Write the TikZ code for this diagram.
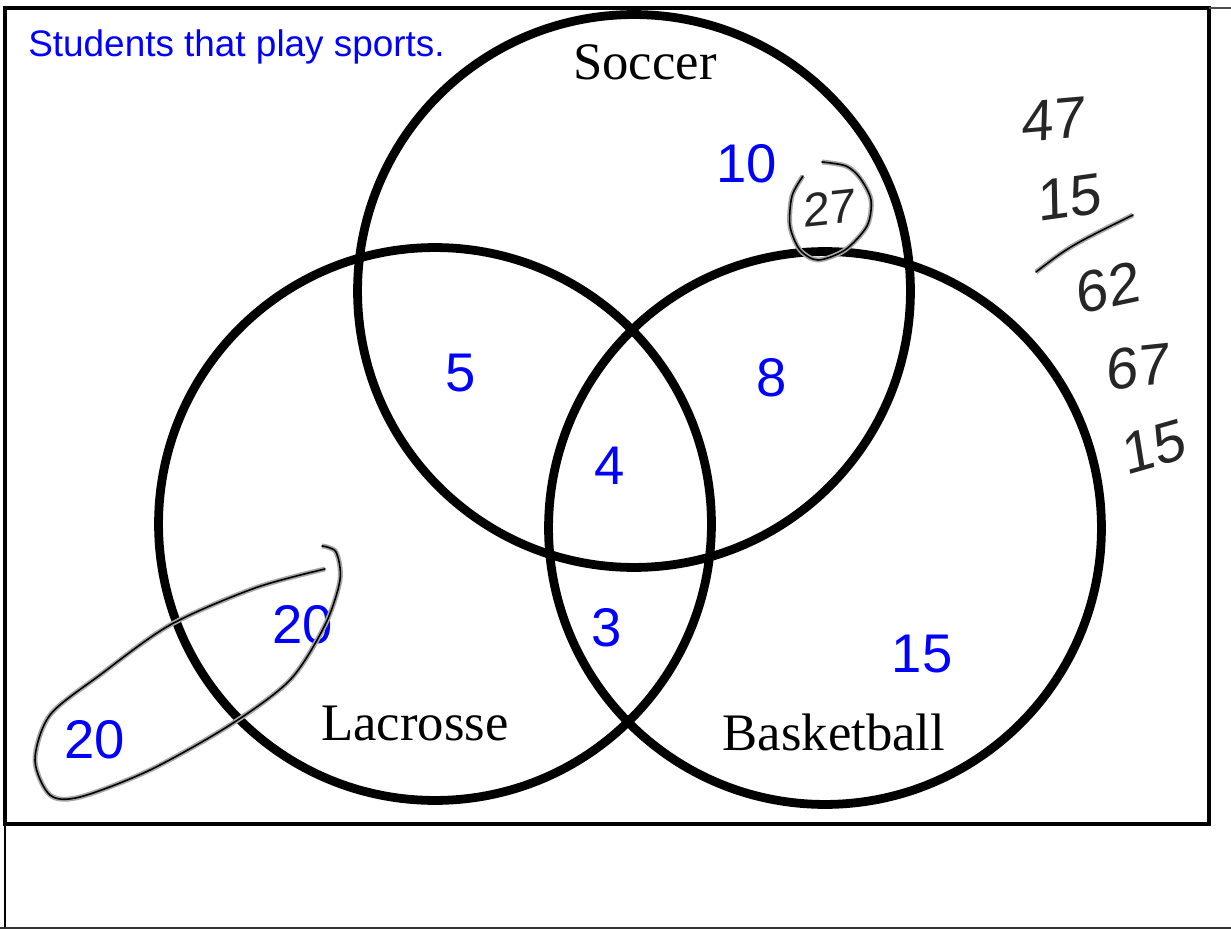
\documentclass[tikz,border=0pt]{standalone}
\usepackage{fontspec}
\setmainfont{Liberation Serif}
\newfontfamily\labelfont{Liberation Sans}
\newfontfamily\handfont[FakeSlant=0.12]{Liberation Sans}

\begin{document}
\begin{tikzpicture}[x=0.02cm, y=-0.02cm, every node/.style={inner sep=0pt},
  setcircle/.style={circle, draw, line width=5pt, minimum size=11.06cm},
  count/.style={text=blue, font=\labelfont\fontsize{31}{31}\selectfont},
  sport/.style={font=\fontsize{30}{30}\selectfont},
  hand/.style={text=black!85, font=\handfont\fontsize{33}{33}\selectfont},
  ink/.style={draw=black, line width=0.9pt, line cap=round, line join=round,
    preaction={draw=gray!70, line width=2.8pt}}]
\useasboundingbox (0,0) rectangle (1231,929);

% frame
\draw[line width=1.8pt] (5,8) rectangle (1209,824);
\draw[line width=1pt] (5,824) -- (5,928);
\draw[line width=1.2pt, black!80] (0,928) -- (1231,928);
\draw[line width=0.6pt, black!70] (1209,8) -- (1231,8);

\node[anchor=base west, text=blue, font=\labelfont\fontsize{21}{21}\selectfont] (title) at (28,57) {Students that play sports.};

% the three sets
\node[setcircle] (soccer) at (634,291) {};
\node[setcircle] (lacrosse) at (435,524) {};
\node[setcircle] (basketball) at (825,528) {};

\node[sport, anchor=base] (soccerlbl) at (645,80) {Soccer};
\node[sport, anchor=base] (lacrosselbl) at (415,740) {Lacrosse};
\node[sport, anchor=base] (basketballlbl) at (834,750) {Basketball};

% counts
\node[count] (n10) at (747,164) {10};
\node[count] (n5) at (461,373) {5};
\node[count] (n8) at (772,378) {8};
\node[count] (n4) at (610,466) {4};
\node[count] (n20in) at (303,625) {20};
\node[count] (n3) at (607,628) {3};
\node[count] (n15) at (922,654) {15};
\node[count] (n20out) at (95,740) {20};

% handwritten notes
\draw[ink] plot[smooth] coordinates {(325,569) (255,588) (170,625) (100,675) (50,715) (35,760) (50,795) (80,797) (150,770) (230,725) (290,680) (325,625) (340,580) (336,552) (322,546)};

\node[hand, font=\handfont\fontsize{27}{27}\selectfont, rotate=6] (n27) at (828,208) {27};
\draw[ink] plot[smooth] coordinates {(803,176) (792,196) (790,226) (800,250) (818,260) (845,250) (867,226) (871,200) (860,178) (846,166) (822,162)};

\node[hand, rotate=5] (sum47) at (1052,120) {47};
\node[hand, rotate=8] (sum15) at (1068,198) {15};
\draw[ink] (1036,272) .. controls (1070,246) .. (1133,215);
\node[hand, rotate=12] (sum62) at (1106,288) {62};
\node[hand, rotate=6] (sum67) at (1136,367) {67};
\node[hand, rotate=16] (sum15b) at (1152,448) {15};
\end{tikzpicture}
\end{document}
